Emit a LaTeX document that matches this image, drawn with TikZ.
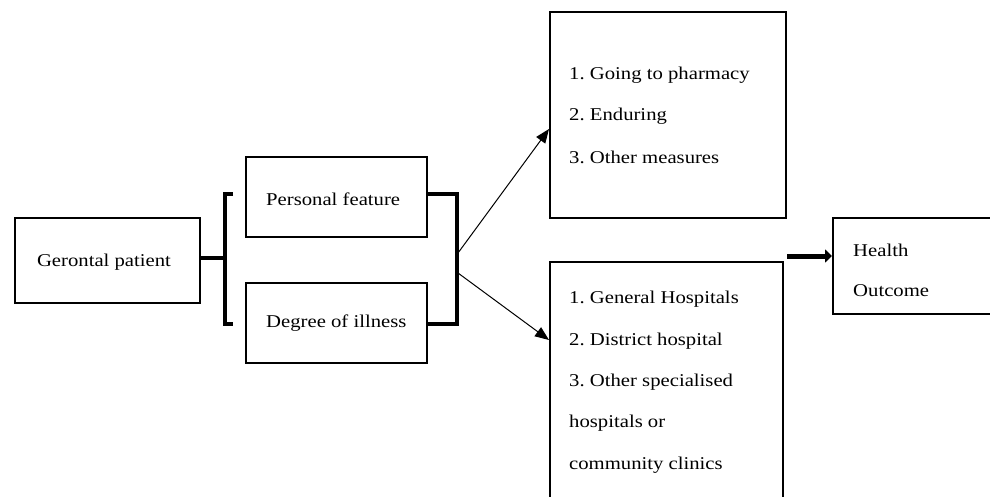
\documentclass[tikz,border=0pt]{standalone}
\usepackage{fontspec}
\setmainfont{Liberation Serif}[FakeStretch=1.15]
\usetikzlibrary{arrows.meta}
\begin{document}
\frenchspacing
\begin{tikzpicture}[x=1pt,y=-1pt,
  box/.style={draw,line width=2pt,rectangle,inner sep=0pt},
  txt/.style={anchor=west,inner sep=0pt,font=\fontsize{18}{21}\selectfont},
  brk/.style={line width=3.5pt},
  thin/.style={line width=1pt,-{Triangle[length=14pt,width=11pt]}}]
\useasboundingbox (0,0) rectangle (990,497);
% boxes
\node[box,minimum width=185pt,minimum height=85pt] (gp) at (107.5,260.5) {};
\node[font=\fontsize{18}{21}\selectfont] (gpt) at (104,262) {Gerontal patient};
\node[box,minimum width=181pt,minimum height=80pt] (pf) at (336.5,197) {};
\node[txt] (pft) at (266,199) {Personal feature};
\node[box,minimum width=181pt,minimum height=80pt] (di) at (336.5,323) {};
\node[txt] (dit) at (266,323) {Degree of illness};
\node[box,minimum width=236pt,minimum height=206pt] (tr) at (668,115) {};
\node[txt] (t1) at (569,75) {1. Going to pharmacy};
\node[txt] (t2) at (569,116) {2. Enduring};
\node[txt] (t3) at (569,157) {3. Other measures};
\node[box,minimum width=233pt,minimum height=260pt] (br) at (666.5,392) {};
\node[txt] (b1) at (569,299) {1. General Hospitals};
\node[txt] (b2) at (569,341) {2. District hospital};
\node[txt] (b3) at (569,382) {3. Other specialised};
\node[txt] (b4) at (569,423) {hospitals or};
\node[txt] (b5) at (569,465) {community clinics};
\node[box,minimum width=170pt,minimum height=96pt] (ho) at (918,266) {};
\node[txt] (h1) at (853,250) {Health};
\node[txt] (h2) at (853,291) {Outcome};
% left bracket
\coordinate (lb) at (225,258);
\draw[brk] (gp.east |- lb) -- (lb);
\draw[brk] (233,194) -- (225,194) -- (225,324) -- (233,324);
% right bracket
\coordinate (rbt) at (457,194);
\coordinate (rbb) at (457,324);
\draw[brk] (pf.east |- rbt) -- (rbt) -- (rbb) -- (di.east |- rbb);
% arrows
\coordinate (a1) at (458,253);
\coordinate (a2) at (458,273);
\draw[thin] (a1) -- (tr.west |- 0,129);
\draw[thin] (a2) -- (br.west |- 0,340);
\draw[line width=5pt,-{Triangle[length=7pt,width=13pt]}] (787,256) -- (ho.west |- 0,256);
\end{tikzpicture}
\end{document}
